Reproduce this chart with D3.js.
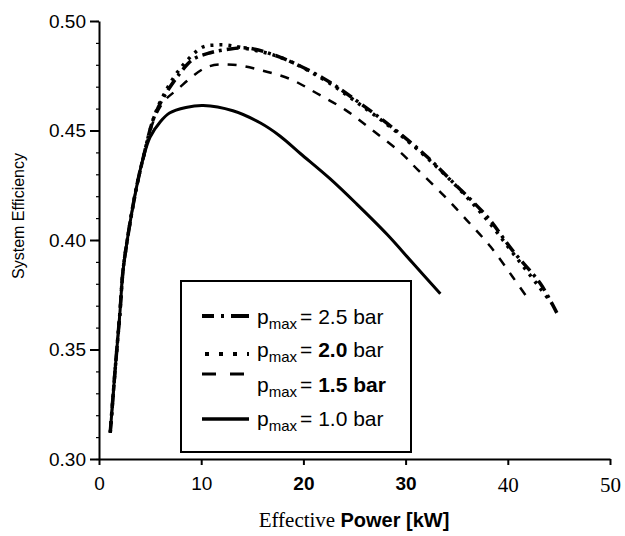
<!DOCTYPE html>
<html>
<head>
<meta charset="utf-8">
<script src="https://cdn.jsdelivr.net/npm/d3@7"></script>
<style>
  body { margin: 0; background: #fff; }
  text { fill: #000; }
</style>
</head>
<body>
<div id="chart"></div>
<script>
// data: effective power [kW] vs system efficiency
const pw25 = [1.1, 1.6, 2.05, 2.35, 2.8, 3.3, 3.8, 4.3, 5.3, 6.3, 7.9, 9.2, 10.9, 12.5, 14.5, 17.7, 21.9, 25.5, 28.8, 32.1, 34.6, 38, 40.5, 43.2, 44.8];
const eff25 = [0.312, 0.342, 0.367, 0.386, 0.401, 0.415, 0.427, 0.437, 0.455, 0.465, 0.476, 0.4825, 0.4855, 0.487, 0.4877, 0.4835, 0.474, 0.4626, 0.451, 0.438, 0.4265, 0.4105, 0.395, 0.380, 0.3667];

const pw20 = [1.1, 1.6, 2.05, 2.35, 2.8, 3.3, 3.8, 4.3, 5.3, 6.3, 7.9, 10.1, 11.4, 12.5, 13.8, 17.7, 21.9, 25.5, 28.8, 32.1, 35.3, 38, 40.5, 43, 44.3];
const eff20 = [0.312, 0.342, 0.367, 0.386, 0.401, 0.415, 0.427, 0.437, 0.455, 0.466, 0.478, 0.488, 0.489, 0.489, 0.488, 0.4835, 0.4735, 0.462, 0.4505, 0.4375, 0.423, 0.409, 0.394, 0.379, 0.371];

const pw15 = [1.1, 1.6, 2.05, 2.35, 2.8, 3.3, 3.8, 4.3, 5.3, 6.3, 7.6, 10.6, 13.1, 15.8, 18.7, 21.3, 24.1, 26.8, 29.5, 31.2, 33.7, 36, 38.3, 40.5, 42];
const eff15 = [0.312, 0.342, 0.367, 0.386, 0.401, 0.415, 0.427, 0.437, 0.454, 0.463, 0.4685, 0.479, 0.480, 0.4776, 0.4735, 0.467, 0.4594, 0.450, 0.440, 0.432, 0.4205, 0.409, 0.397, 0.383, 0.373];

const pw10 = [1.1, 1.6, 2.05, 2.35, 2.8, 3.3, 3.8, 4.3, 5.0, 6.0, 6.9, 8.5, 10.2, 13.1, 15.8, 17.7, 19.7, 22.6, 25.2, 28.2, 30.7, 33.4];
const eff10 = [0.312, 0.342, 0.367, 0.386, 0.401, 0.415, 0.427, 0.437, 0.447, 0.454, 0.458, 0.4605, 0.4614, 0.459, 0.4534, 0.4475, 0.4395, 0.428, 0.4165, 0.4025, 0.3895, 0.3755];

const xTicks = [0, 10, 20, 30, 40, 50];
const yTicks = [0.30, 0.35, 0.40, 0.45, 0.50];
const legendVals = ["2.5", "2.0", "1.5", "1.0"];

const width = 625;
const height = 536;
const margin = { top: 21, right: 15, bottom: 77, left: 99 };

const svg = d3.select("#chart")
  .append("svg")
  .attr("width", width)
  .attr("height", height);

const x = d3.scaleLinear()
  .domain([0, 50])
  .range([margin.left, width - margin.right]);

const y = d3.scaleLinear()
  .domain([0.30, 0.50])
  .range([height - margin.bottom, margin.top]);

const series = [
  { key: "2.0", xs: pw20, ys: eff20, dash: "3,6", w: 3.5 },
  { key: "2.5", xs: pw25, ys: eff25, dash: "12,5,3,5", w: 3.5 },
  { key: "1.5", xs: pw15, ys: eff15, dash: "9,9", w: 2.5 },
  { key: "1.0", xs: pw10, ys: eff10, dash: null, w: 3 }
];

const line = d3.line()
  .x(d => x(d[0]))
  .y(d => y(d[1]))
  .curve(d3.curveCatmullRom.alpha(0.5));

svg.append("g")
  .selectAll("path")
  .data(series)
  .join("path")
    .attr("fill", "none")
    .attr("stroke", "#000")
    .attr("stroke-width", d => d.w)
    .attr("stroke-dasharray", d => d.dash)
    .attr("d", d => line(d.xs.map((v, i) => [v, d.ys[i]])));

// axes
const fontSans = "'Liberation Sans', Arial, sans-serif";
const fontSerif = "'Liberation Serif', 'Times New Roman', serif";

svg.append("g")
  .attr("transform", `translate(${margin.left},0)`)
  .call(d3.axisLeft(y).tickValues(d3.range(0.30, 0.5001, 0.01)).tickSize(3).tickFormat(""))
  .call(g => g.select(".domain").remove())
  .selectAll("line").attr("stroke-width", 1.2);

const yAxis = svg.append("g")
  .attr("transform", `translate(${margin.left},0)`)
  .call(d3.axisLeft(y).tickValues(yTicks).tickSize(9).tickSizeOuter(0).tickFormat(d3.format(".2f")))
  .attr("font-family", fontSans)
  .attr("font-size", 19);
yAxis.select(".domain").attr("stroke-width", 2);
yAxis.selectAll("line").attr("stroke-width", 2);
yAxis.selectAll("text").attr("x", -13);

const xFonts = [fontSans, fontSans, fontSans, fontSans, fontSerif, fontSerif];
const xAxis = svg.append("g")
  .attr("transform", `translate(0,${height - margin.bottom})`)
  .call(d3.axisBottom(x).tickValues(xTicks).tickSize(6).tickSizeOuter(0))
  .attr("font-size", 19);
xAxis.select(".domain").attr("stroke-width", 2);
xAxis.selectAll("line").attr("stroke-width", 2);
xAxis.selectAll("text")
  .attr("y", 18)
  .attr("font-family", (d, i) => xFonts[i])
  .attr("font-weight", d => (d === 20 || d === 30) ? "bold" : "normal")
  .attr("font-size", d => d >= 40 ? 21 : 19);

// axis titles
svg.append("text")
  .attr("transform", "translate(24,216) rotate(-90)")
  .attr("text-anchor", "middle")
  .attr("font-family", fontSans)
  .attr("font-size", 16)
  .text("System Efficiency");

const xt = svg.append("text")
  .attr("x", 354)
  .attr("y", 527)
  .attr("text-anchor", "middle")
  .attr("font-size", 20);
xt.append("tspan").attr("font-family", fontSerif).attr("font-size", 21).text("Effective ");
xt.append("tspan").attr("font-family", fontSans).attr("font-weight", "bold").text("Power [kW]");

// legend
const lg = svg.append("g");
lg.append("rect")
  .attr("x", 181).attr("y", 281)
  .attr("width", 230).attr("height", 171)
  .attr("fill", "#fff")
  .attr("stroke", "#000")
  .attr("stroke-width", 2);

const rowY = [324, 357, 392, 426];
const lineY = [316, 354, 374, 419];
const legendSeries = legendVals.map(k => series.find(s => s.key === k));

lg.selectAll("line.sample")
  .data(legendSeries)
  .join("line")
    .attr("class", "sample")
    .attr("x1", (d, i) => i === 1 ? 205 : 202)
    .attr("x2", 249)
    .attr("y1", (d, i) => lineY[i])
    .attr("y2", (d, i) => lineY[i])
    .attr("stroke", "#000")
    .attr("stroke-width", d => d.w + 0.5)
    .attr("stroke-dasharray", (d, i) => i === 0 ? "12,7,3,7,20" : i === 1 ? "4,10" : i === 2 ? "14,14,14" : null);

const bold = [false, true, true, false];
lg.selectAll("text.lab")
  .data(legendVals)
  .join("text")
    .attr("class", "lab")
    .attr("x", 257)
    .attr("y", (d, i) => rowY[i])
    .attr("font-family", fontSans)
    .attr("font-size", 21)
    .each(function(d, i) {
      const t = d3.select(this);
      t.append("tspan").text("p");
      t.append("tspan").attr("font-size", 15).attr("dy", 5).text("max");
      t.append("tspan").attr("dy", -5).attr("dx", 3).text("= ");
      t.append("tspan").attr("font-weight", bold[i] ? "bold" : "normal").text(d);
      t.append("tspan").attr("font-weight", i === 2 ? "bold" : "normal").text(" bar");
    });
</script>
</body>
</html>
